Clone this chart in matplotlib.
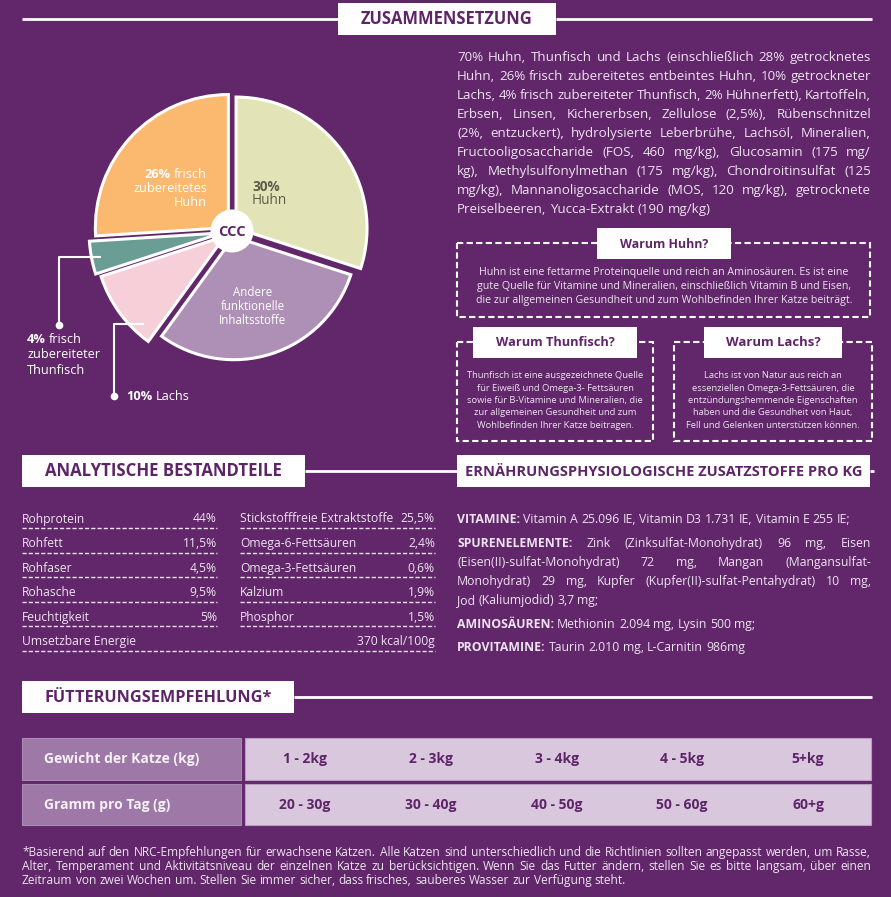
import matplotlib
matplotlib.use("Agg")
import matplotlib.pyplot as plt
from matplotlib.patches import Rectangle, Circle

# Farben
BG = "#62266b"
LIGHT = "#ece4ee"
DARK = "#5e2468"

plt.rcParams['font.family'] = ['Open Sans', 'DejaVu Sans']

# --- Daten ---
pie_names = ["30% Huhn", "Andere funktionelle Inhaltsstoffe", "10% Lachs",
             "4% frisch zubereiteter Thunfisch", "26% frisch zubereitetes Huhn"]
pie_values = [30, 30, 10, 4, 26]
pie_colors = ["#e3e3b8", "#ae90b6", "#f6cfd8", "#6a9e94", "#fbb970"]

zusammensetzung = [
    "70% Huhn, Thunfisch und Lachs (einschließlich 28% getrocknetes",
    "Huhn, 26% frisch zubereitetes entbeintes Huhn, 10% getrockneter",
    "Lachs, 4% frisch zubereiteter Thunfisch, 2% Hühnerfett), Kartoffeln,",
    "Erbsen, Linsen, Kichererbsen, Zellulose (2,5%), Rübenschnitzel",
    "(2%, entzuckert), hydrolysierte Leberbrühe, Lachsöl, Mineralien,",
    "Fructooligosaccharide (FOS, 460 mg/kg), Glucosamin (175 mg/",
    "kg), Methylsulfonylmethan (175 mg/kg), Chondroitinsulfat (125",
    "mg/kg), Mannanoligosaccharide (MOS, 120 mg/kg), getrocknete",
    "Preiselbeeren, Yucca-Extrakt (190 mg/kg)",
]

warum_huhn = [
    "Huhn ist eine fettarme Proteinquelle und reich an Aminosäuren. Es ist eine",
    "gute Quelle für Vitamine und Mineralien, einschließlich Vitamin B und Eisen,",
    "die zur allgemeinen Gesundheit und zum Wohlbefinden Ihrer Katze beiträgt.",
]
warum_thunfisch = [
    "Thunfisch ist eine ausgezeichnete Quelle",
    "für Eiweiß und Omega-3- Fettsäuren",
    "sowie für B-Vitamine und Mineralien, die",
    "zur allgemeinen Gesundheit und zum",
    "Wohlbefinden Ihrer Katze beitragen.",
]
warum_lachs = [
    "Lachs ist von Natur aus reich an",
    "essenziellen Omega-3-Fettsäuren, die",
    "entzündungshemmende Eigenschaften",
    "haben und die Gesundheit von Haut,",
    "Fell und Gelenken unterstützen können.",
]

analyse_links = [("Rohprotein", "44%"), ("Rohfett", "11,5%"), ("Rohfaser", "4,5%"),
                 ("Rohasche", "9,5%"), ("Feuchtigkeit", "5%")]
analyse_rechts = [("Stickstofffreie Extraktstoffe", "25,5%"), ("Omega-6-Fettsäuren", "2,4%"),
                  ("Omega-3-Fettsäuren", "0,6%"), ("Kalzium", "1,9%"), ("Phosphor", "1,5%")]
energie = ("Umsetzbare Energie", "370 kcal/100g")

# (Text, Anzahl fetter Wörter am Anfang, Blocksatz)
zusatzstoffe = [
    ("VITAMINE: Vitamin A 25.096 IE, Vitamin D3 1.731 IE, Vitamin E 255 IE;", 1, False),
    ("SPURENELEMENTE: Zink (Zinksulfat-Monohydrat) 96 mg, Eisen", 1, True),
    ("(Eisen(II)-sulfat-Monohydrat) 72 mg, Mangan (Mangansulfat-", 0, True),
    ("Monohydrat) 29 mg, Kupfer (Kupfer(II)-sulfat-Pentahydrat) 10 mg,", 0, True),
    ("Jod (Kaliumjodid) 3,7 mg;", 0, False),
    ("AMINOSÄUREN: Methionin 2.094 mg, Lysin 500 mg;", 1, False),
    ("PROVITAMINE: Taurin 2.010 mg, L-Carnitin 986mg", 1, False),
]

tabelle_kopf = ["Gewicht der Katze (kg)", "Gramm pro Tag (g)"]
gewicht = ["1 - 2kg", "2 - 3kg", "3 - 4kg", "4 - 5kg", "5+kg"]
gramm = ["20 - 30g", "30 - 40g", "40 - 50g", "50 - 60g", "60+g"]

fussnote = [
    "*Basierend auf den NRC-Empfehlungen für erwachsene Katzen. Alle Katzen sind unterschiedlich und die Richtlinien sollten angepasst werden, um Rasse,",
    "Alter, Temperament und Aktivitätsniveau der einzelnen Katze zu berücksichtigen. Wenn Sie das Futter ändern, stellen Sie es bitte langsam, über einen",
    "Zeitraum von zwei Wochen um. Stellen Sie immer sicher, dass frisches, sauberes Wasser zur Verfügung steht.",
]

# --- Figur ---
W, H = 891, 897
fig = plt.figure(figsize=(W / 100, H / 100), dpi=100, facecolor=BG)

cx, cy = 232, 231
ax_pie = fig.add_axes([(cx - 160) / W, (H - cy - 160) / H, 320 / W, 320 / H])
wedges, _ = ax_pie.pie(pie_values, colors=pie_colors, startangle=90, counterclock=False,
                       radius=131, explode=[5, 6, 9, 10, 5],
                       wedgeprops=dict(edgecolor="white", linewidth=2.2))
for w, r in zip(wedges, [131, 123, 130, 133, 133]):
    w.set_radius(r)
ax_pie.set_xlim(-160, 160)
ax_pie.set_ylim(-160, 160)
ax_pie.axis("off")

ax = fig.add_axes([0, 0, 1, 1], facecolor="none")
ax.set_xlim(0, W)
ax.set_ylim(H, 0)
ax.axis("off")

renderer = fig.canvas.get_renderer()


def width_of(s, size, weight="normal"):
    t = ax.text(0, 0, s, fontsize=size, fontweight=weight)
    w = t.get_window_extent(renderer).width
    t.remove()
    return w


def fit(s, target, weight="normal"):
    # Schriftgröße so wählen, dass der Text die Zielbreite hat
    return 10 * target / width_of(s, 10, weight)


def words_line(parts, x0, x1, y, size, color, mode="left"):
    # parts: Liste von (Wort, Gewicht); y = optische Mitte der Zeile
    base = y + 0.27 * size * 100 / 72
    objs = [ax.text(0, base, p, fontsize=size, fontweight=wt, color=color,
                    va="baseline", ha="left") for p, wt in parts]
    widths = [o.get_window_extent(renderer).width for o in objs]
    space = width_of("x x", size) - width_of("xx", size)
    if mode == "justify" and len(objs) > 1:
        gap = (x1 - x0 - sum(widths)) / (len(objs) - 1)
    else:
        gap = space
    total = sum(widths) + gap * (len(objs) - 1)
    if mode == "right":
        x = x1 - total
    elif mode == "center":
        x = (x0 + x1) / 2 - total / 2
    else:
        x = x0
    for o, w in zip(objs, widths):
        o.set_x(x)
        x += w + gap


def split(s, nbold=0):
    ws = s.split()
    return [(w, "bold" if i < nbold else "normal") for i, w in enumerate(ws)]


def heading(x0, x1, y0, y1, text, target, lines):
    for lx0, lx1 in lines:
        ax.plot([lx0, lx1], [(y0 + y1) / 2] * 2, color="white", lw=2, solid_capstyle="butt")
    ax.add_patch(Rectangle((x0, y0), x1 - x0, y1 - y0, facecolor="white", edgecolor="none"))
    ax.text((x0 + x1) / 2, (y0 + y1) / 2 + 0.5, text, fontsize=fit(text, target, "bold"),
            fontweight="bold", color=DARK, ha="center", va="center")


def dashed_box(x0, x1, y0, y1):
    ax.add_patch(Rectangle((x0, y0), x1 - x0, y1 - y0, facecolor="none", edgecolor="white",
                           lw=1.5, linestyle=(0, (3, 1.6))))


# --- ZUSAMMENSETZUNG ---
heading(338, 556, 3, 35, "ZUSAMMENSETZUNG", 172, [(22, 338), (556, 872)])

# Kuchenbeschriftungen
words_line([("26%", "bold"), ("frisch", "normal")], 0, 207, 175, 9.2, "white", "right")
ax.text(207, 189, "zubereitetes", fontsize=9.2, color="white", ha="right", va="center")
ax.text(207, 203, "Huhn", fontsize=9.2, color="white", ha="right", va="center")
ax.text(252, 187, "30%", fontsize=9.8, fontweight="bold", color="#5d5c48", ha="left", va="center")
ax.text(252, 201, "Huhn", fontsize=9.8, color="#5d5c48", ha="left", va="center")
ax.text(253, 307, "Andere\nfunktionelle\nInhaltsstoffe", fontsize=8.3, color="white",
        ha="center", va="center", linespacing=1.1)

ax.add_patch(Circle((cx, cy), 21.5, facecolor="white", edgecolor="none"))
ax.text(cx, cy + 1, "CCC", fontsize=10.5, fontweight="bold", color=DARK, ha="center", va="center")

ax.plot([100, 59, 59], [257, 257, 325], color="white", lw=1.5)
ax.plot([59], [325], "o", color="white", ms=4.5)
words_line([("4%", "bold"), ("frisch", "normal")], 27, 200, 340, 9.2, "white")
ax.text(27, 355, "zubereiteter", fontsize=9.2, color="white", va="center")
ax.text(27, 370, "Thunfisch", fontsize=9.2, color="white", va="center")

ax.plot([143, 114, 114], [324, 324, 396], color="white", lw=1.5)
ax.plot([114], [396], "o", color="white", ms=4.5)
words_line([("10%", "bold"), ("Lachs", "normal")], 126, 300, 397, 9.2, "white")

# Zutatenliste
fs = fit(zusammensetzung[0], 405)
for i, line in enumerate(zusammensetzung):
    mode = "justify" if i < len(zusammensetzung) - 1 else "left"
    words_line(split(line), 457, 871, 57 + 19 * i, fs, LIGHT, mode)

# Warum-Kästen
fw = fit(warum_huhn[0], 371)
dashed_box(457, 870, 243, 317)
heading(597, 731, 228, 259, "Warum Huhn?", 88, [])
for i, line in enumerate(warum_huhn):
    ax.text(664, 273 + 14 * i, line, fontsize=fw, color=LIGHT, ha="center", va="center")

fk = min(fit(warum_thunfisch[0], 180), fit(warum_lachs[4], 176))
dashed_box(457, 653, 342, 441)
heading(473, 637, 327, 358, "Warum Thunfisch?", 118, [])
for i, line in enumerate(warum_thunfisch):
    ax.text(555, 376 + 12.3 * i, line, fontsize=fk, color=LIGHT, ha="center", va="center")

dashed_box(674, 872, 342, 441)
heading(704, 842, 327, 358, "Warum Lachs?", 95, [])
for i, line in enumerate(warum_lachs):
    ax.text(773, 376 + 12.3 * i, line, fontsize=fk, color=LIGHT, ha="center", va="center")

# --- ANALYTISCHE BESTANDTEILE ---
heading(22, 305, 455, 487, "ANALYTISCHE BESTANDTEILE", 237, [(305, 457)])
heading(457, 870, 455, 487, "ERNÄHRUNGSPHYSIOLOGISCHE ZUSATZSTOFFE PRO KG", 394, [(870, 874)])

fa = fit(analyse_rechts[0][0], 154)
dash_kw = dict(color=LIGHT, lw=1, linestyle=(0, (3, 1.5)))
for i, ((n1, v1), (n2, v2)) in enumerate(zip(analyse_links, analyse_rechts)):
    y = 519 + 24.6 * i
    ax.text(22, y, n1, fontsize=fa, color=LIGHT, va="center")
    ax.text(217, y, v1, fontsize=fa, color=LIGHT, va="center", ha="right")
    ax.text(240, y, n2, fontsize=fa, color=LIGHT, va="center")
    ax.text(435, y, v2, fontsize=fa, color=LIGHT, va="center", ha="right")
    ax.plot([22, 217], [y + 9, y + 9], **dash_kw)
    ax.plot([240, 435], [y + 9, y + 9], **dash_kw)
y = 519 + 24.6 * 5
ax.text(22, y, energie[0], fontsize=fa, color=LIGHT, va="center")
ax.text(435, y, energie[1], fontsize=fa, color=LIGHT, va="center", ha="right")
ax.plot([22, 435], [y + 9, y + 9], **dash_kw)

# Zusatzstoffe
vit = split(zusatzstoffe[0][0], 1)
fz = 10 * 396 / (width_of(" ".join(w for w, _ in vit[1:]), 10) + width_of(vit[0][0] + " ", 10, "bold"))
zy = [520, 544, 563, 582, 601, 625, 648]
for (line, nb, just), y in zip(zusatzstoffe, zy):
    words_line(split(line, nb), 457, 871, y, fz, LIGHT, "justify" if just else "left")

# --- FÜTTERUNGSEMPFEHLUNG ---
heading(22, 294, 681, 713, "FÜTTERUNGSEMPFEHLUNG*", 225, [(294, 872)])

ft = fit(tabelle_kopf[0], 155, "bold")
rows_y = [(738, 780), (784, 825)]
col_x = [305, 431, 557, 682, 808]
for (y0, y1), kopf, werte in zip(rows_y, tabelle_kopf, [gewicht, gramm]):
    ax.add_patch(Rectangle((22, y0), 219, y1 - y0, facecolor="#9e79a7", edgecolor="#a88bb0", lw=0.8))
    ax.add_patch(Rectangle((245, y0), 626, y1 - y0, facecolor="#d9c7de", edgecolor="#b9a0c1", lw=0.8))
    ax.text(44, (y0 + y1) / 2, kopf, fontsize=ft, fontweight="bold", color="#f6f0f7", va="center")
    for x, v in zip(col_x, werte):
        ax.text(x, (y0 + y1) / 2, v, fontsize=ft, fontweight="bold", color=DARK,
                ha="center", va="center")

ff = fit(fussnote[0], 840)
for i, line in enumerate(fussnote):
    mode = "justify" if i < len(fussnote) - 1 else "left"
    words_line(split(line), 22, 871, 853 + 14 * i, ff, LIGHT, mode)

fig.savefig("out.png", dpi=100, facecolor=BG)
